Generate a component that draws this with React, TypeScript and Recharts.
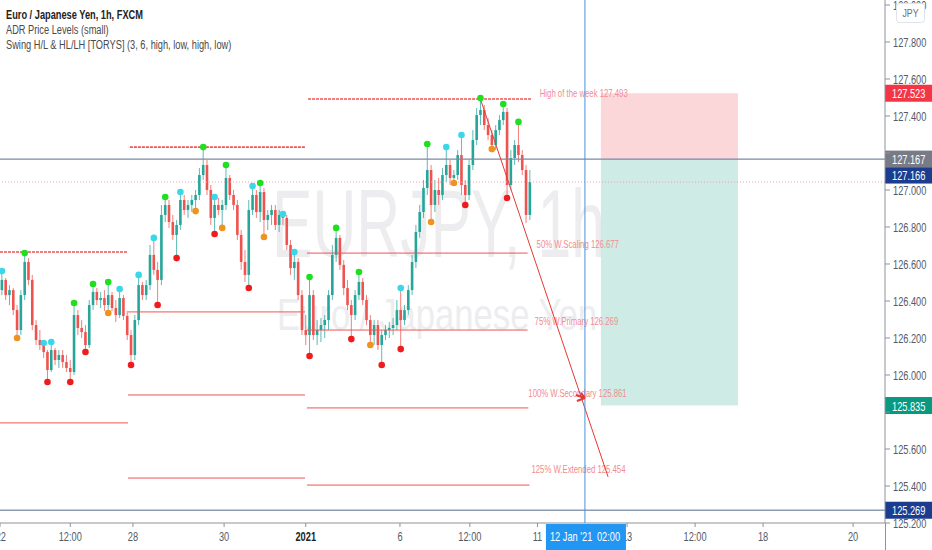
import React from "react";
import {
  ComposedChart,
  Bar,
  Scatter,
  XAxis,
  YAxis,
  ReferenceLine,
  ReferenceArea,
  ReferenceDot,
} from "recharts";

const W = 932;
const H = 550;
const SANS = "'Liberation Sans', Arial, sans-serif";
const UP = "#26a69a";
const DOWN = "#ef5350";
const LEVEL = "#f05454";
const LEVEL_TEXT = "#f28b8f";
const AXIS = "#8f929b";
const TICK = "#555a66";

// [open, high, low, close], 2h candles
type Candle = [number, number, number, number];

const weekDec21: Candle[] = [
  [126.459, 126.562, 126.432, 126.514], [126.514, 126.524, 126.405, 126.432],
  [126.432, 126.486, 126.378, 126.459], [126.459, 126.47, 126.324, 126.351],
  [126.351, 126.378, 126.2, 126.243], [126.243, 126.459, 126.216, 126.432],
  [126.432, 126.659, 126.405, 126.611], [126.611, 126.632, 126.486, 126.514],
  [126.514, 126.541, 126.243, 126.27], [126.27, 126.297, 126.162, 126.189],
  [126.189, 126.243, 126.135, 126.162], [126.162, 126.173, 126.092, 126.124],
  [126.124, 126.135, 125.962, 126.027], [126.027, 126.178, 126.016, 126.135],
  [126.135, 126.146, 126.054, 126.081], [126.081, 126.135, 126.038, 126.108],
  [126.108, 126.135, 126.038, 126.07], [126.07, 126.108, 126.016, 126.038],
  [126.038, 126.081, 125.962, 126.016], [126.016, 126.389, 126.0, 126.324],
  [126.324, 126.351, 126.216, 126.254], [126.254, 126.297, 126.2, 126.232],
  [126.232, 126.27, 126.124, 126.162], [126.162, 126.405, 126.146, 126.378],
  [126.378, 126.492, 126.351, 126.449], [126.449, 126.47, 126.378, 126.405],
  [126.405, 126.449, 126.362, 126.416], [126.416, 126.459, 126.346, 126.378],
  [126.378, 126.503, 126.335, 126.432], [126.432, 126.449, 126.346, 126.362],
  [126.362, 126.405, 126.286, 126.324], [126.324, 126.465, 126.308, 126.416],
  [126.416, 126.432, 126.297, 126.319], [126.319, 126.346, 126.189, 126.216],
];

const weekDec28: Candle[] = [
  [126.216, 126.243, 126.054, 126.108], [126.108, 126.324, 126.081, 126.297],
  [126.297, 126.541, 126.27, 126.486], [126.486, 126.503, 126.405, 126.432],
  [126.432, 126.514, 126.405, 126.486], [126.486, 126.703, 126.459, 126.649],
  [126.649, 126.741, 126.541, 126.568], [126.568, 126.611, 126.378, 126.514],
  [126.514, 126.919, 126.486, 126.865], [126.865, 126.962, 126.827, 126.919],
  [126.919, 126.946, 126.795, 126.827], [126.827, 126.865, 126.73, 126.757],
  [126.757, 126.838, 126.632, 126.811], [126.811, 126.989, 126.784, 126.946],
  [126.946, 126.973, 126.865, 126.892], [126.892, 126.946, 126.849, 126.919],
  [126.919, 126.973, 126.881, 126.946], [126.946, 127.0, 126.886, 126.973],
  [126.973, 127.119, 126.946, 127.081], [127.081, 127.232, 127.054, 127.135],
  [127.135, 127.162, 126.973, 127.0], [127.0, 127.027, 126.811, 126.849],
  [126.849, 126.962, 126.762, 126.919], [126.919, 126.957, 126.865, 126.892],
  [126.892, 126.946, 126.795, 126.919], [126.919, 127.135, 126.892, 127.065],
  [127.065, 127.081, 126.946, 126.973], [126.973, 127.0, 126.892, 126.919],
  [126.919, 126.946, 126.73, 126.757], [126.757, 126.784, 126.568, 126.611],
  [126.611, 126.676, 126.503, 126.541], [126.541, 126.946, 126.47, 126.892],
  [126.892, 127.022, 126.865, 126.973], [126.973, 127.0, 126.849, 126.881],
  [126.881, 127.038, 126.827, 126.989], [126.989, 127.011, 126.746, 126.838],
  [126.838, 126.892, 126.784, 126.865], [126.865, 126.919, 126.811, 126.892],
  [126.892, 126.919, 126.784, 126.811], [126.811, 126.892, 126.773, 126.865],
  [126.865, 126.87, 126.811, 126.849], [126.849, 126.865, 126.676, 126.703],
  [126.703, 126.73, 126.541, 126.578], [126.578, 126.665, 126.514, 126.611],
  [126.611, 126.632, 126.405, 126.432], [126.432, 126.459, 126.216, 126.243],
  [126.243, 126.324, 126.162, 126.216],
];

const weekJan4: Candle[] = [
  [126.216, 126.53, 126.103, 126.432], [126.432, 126.459, 126.189, 126.216],
  [126.216, 126.297, 126.162, 126.243], [126.243, 126.308, 126.178, 126.27],
  [126.27, 126.324, 126.2, 126.297], [126.297, 126.459, 126.243, 126.432],
  [126.432, 126.703, 126.405, 126.649], [126.649, 126.795, 126.611, 126.741],
  [126.741, 126.757, 126.568, 126.595], [126.595, 126.622, 126.432, 126.47],
  [126.47, 126.514, 126.351, 126.378], [126.378, 126.405, 126.194, 126.324],
  [126.324, 126.459, 126.297, 126.432], [126.432, 126.557, 126.405, 126.503],
  [126.503, 126.524, 126.378, 126.405], [126.405, 126.432, 126.27, 126.297],
  [126.297, 126.324, 126.162, 126.216], [126.216, 126.297, 126.162, 126.27],
  [126.27, 126.297, 126.135, 126.162], [126.162, 126.243, 126.054, 126.216],
  [126.216, 126.27, 126.189, 126.243], [126.243, 126.286, 126.2, 126.254],
  [126.254, 126.308, 126.216, 126.27], [126.27, 126.405, 126.243, 126.351],
  [126.351, 126.47, 126.14, 126.297], [126.297, 126.378, 126.27, 126.351],
  [126.351, 126.486, 126.324, 126.459], [126.459, 126.649, 126.432, 126.611],
  [126.611, 126.811, 126.578, 126.773], [126.773, 126.919, 126.741, 126.881],
  [126.881, 127.054, 126.849, 127.011], [127.011, 127.249, 126.973, 127.108],
  [127.108, 127.135, 126.827, 126.919], [126.919, 127.054, 126.881, 127.0],
  [127.0, 127.065, 126.919, 126.973], [126.973, 127.119, 126.946, 127.081],
  [127.081, 127.232, 127.043, 127.135], [127.135, 127.162, 127.027, 127.065],
  [127.065, 127.108, 127.038, 127.081], [127.081, 127.216, 127.054, 127.189],
  [127.189, 127.297, 126.973, 127.027], [127.027, 127.054, 126.919, 126.973],
  [126.973, 127.162, 126.946, 127.135], [127.135, 127.324, 127.108, 127.27],
  [127.27, 127.443, 127.243, 127.405], [127.405, 127.497, 127.351, 127.432],
  [127.432, 127.459, 127.324, 127.351], [127.351, 127.389, 127.27, 127.297],
  [127.297, 127.324, 127.221, 127.243], [127.243, 127.351, 127.216, 127.324],
  [127.324, 127.405, 127.297, 127.378], [127.378, 127.465, 127.351, 127.422],
  [127.422, 127.443, 126.957, 127.027], [127.027, 127.216, 127.0, 127.173],
  [127.173, 127.27, 127.135, 127.243], [127.243, 127.368, 127.151, 127.189],
  [127.189, 127.216, 127.081, 127.108], [127.108, 127.135, 126.822, 126.865],
  [126.865, 127.108, 126.838, 127.043],
];

const FUTURE_SLOTS = 93;

// swing markers: [slot, price]
const swingHighs: [number, number][] = [
  [6, 126.659], [19, 126.389], [24, 126.492], [28, 126.503], [43, 126.962],
  [53, 127.232], [59, 127.135], [68, 127.038], [81, 126.53], [88, 126.795],
  [94, 126.557], [112, 127.249], [126, 127.497], [132, 127.465], [136, 127.368],
];
const lowerHighs: [number, number][] = [
  [0, 126.562], [11, 126.173], [13, 126.178], [31, 126.465], [36, 126.541],
  [40, 126.741], [47, 126.989], [56, 126.962], [66, 127.022], [74, 126.87],
  [77, 126.665], [105, 126.47], [117, 127.232], [121, 127.297],
];
const swingLows: [number, number][] = [
  [12, 125.962], [18, 125.962], [22, 126.124], [34, 126.054], [41, 126.378],
  [46, 126.632], [56, 126.762], [65, 126.47], [81, 126.103], [92, 126.194],
  [100, 126.054], [105, 126.14], [122, 126.919], [133, 126.957],
];
const higherLows: [number, number][] = [
  [4, 126.2], [28, 126.335], [51, 126.886], [58, 126.795], [69, 126.746],
  [97, 126.162], [113, 126.827], [119, 127.038], [129, 127.221],
];

// weekly ADR levels: [fromSlot, toSlot, price, dashed]
const levelsDec21: [number, number, number, boolean][] = [
  [-0.5, 33.2, 126.665, true],
  [-0.5, 33.2, 125.741, false],
];
const levelsDec28: [number, number, number, boolean][] = [
  [33.7, 79.8, 127.232, true],
  [33.2, 79.8, 126.341, false],
  [33.2, 79.8, 125.892, false],
  [33.2, 79.8, 125.443, false],
];
const levelsJan4: [number, number, number, boolean][] = [
  [80.6, 139.5, 127.492, true],
  [80.3, 138.4, 126.659, false],
  [80.3, 138.4, 126.243, false],
  [80.3, 138.6, 125.822, false],
  [80.3, 138.9, 125.405, false],
];
const levelNamesJan4 = [
  "High of the week 127.493",
  "50% W.Scaling 126.677",
  "75% W.Primary 126.269",
  "100% W.Secondary 125.861",
  "125% W.Extended 125.454",
];
const levelLabelOffsets = [
  [8, -5], [9, -8], [7, -8], [0, -14], [2, -15],
];

const xTickSlots = [-0.5, 18, 34.5, 58.5, 80, 104.8, 123.2, 141, 164.6, 182.5, 200.4, 224.1];
const xTickLabels = ["22", "12:00", "28", "30", "2021", "6", "12:00", "11", "13", "12:00", "18", "20"];
const yTicks = [
  125.2, 125.4, 125.6, 125.8, 126.0, 126.2, 126.4, 126.6, 126.8, 127.0, 127.2,
  127.4, 127.6, 127.8, 128.0,
];
// tick labels that sit under a price tag in the picture
const yTicksUnderTags = [125.8, 127.2];
const yMin = 125.2;
const yMax = 128.027;

// position tool and drawings
const stopPrice = 127.523;
const entryPrice = 127.167;
const targetPrice = 125.835;
const lastPrice = 127.043;
const lowLinePrice = 125.269;
const toolFrom = 157.7;
const toolTo = 193.8;
const trendFrom = { x: 125.9, y: 127.497 };
const trendTo = { x: 159.6, y: 125.449 };
const arrowAt = { x: 152.7, y: 125.876 };
const crosshairSlot = 153.5;

const candles = [...weekDec21, ...weekDec28, ...weekJan4];
const rows = Array.from({ length: candles.length + FUTURE_SLOTS }, (_, i) => {
  const k = candles[i];
  return k ? { slot: i, o: k[0], h: k[1], l: k[2], c: k[3] } : { slot: i };
});
const toPoints = (arr: [number, number][]) => arr.map(([i, p]) => ({ i, p }));

// text squeezed horizontally, like the reference screenshot
function SText(props: any) {
  const { x, y, sx = 0.76, anchor = "start", children, ...rest } = props;
  return (
    <text
      transform={`translate(${x},${y}) scale(${sx},1)`}
      textAnchor={anchor}
      dominantBaseline="central"
      fontFamily={SANS}
      {...rest}
    >
      {children}
    </text>
  );
}

function CandleShape(props: any) {
  const { x, y, width, height, payload } = props;
  if (!payload || payload.h == null) return null;
  const top = Math.min(y, y + height);
  const bottom = Math.max(y, y + height);
  const span = payload.h - payload.l || 1e-9;
  const toY = (v: number) => top + ((payload.h - v) / span) * (bottom - top);
  const cx = x + width / 2;
  const color = payload.c >= payload.o ? UP : DOWN;
  const yo = toY(payload.o);
  const yc = toY(payload.c);
  return (
    <g>
      <line x1={cx} x2={cx} y1={top} y2={bottom} stroke={color} strokeWidth={1} strokeOpacity={0.75} />
      <rect x={cx - 1.3} y={Math.min(yo, yc)} width={2.6} height={Math.max(1, Math.abs(yo - yc))} fill={color} />
    </g>
  );
}

const dot = (color: string) => (p: any) => <circle cx={p.cx} cy={p.cy} r={3.3} fill={color} />;

function LevelText(props: any) {
  const { viewBox, text, dx, dy } = props;
  if (!viewBox) return null;
  return (
    <SText x={viewBox.x + viewBox.width + dx} y={viewBox.y + dy} fill={LEVEL_TEXT} fontSize={10.5} sx={0.74}>
      {text}
    </SText>
  );
}

function PriceTag(props: any) {
  const { viewBox, text, color, dy = 0 } = props;
  if (!viewBox) return null;
  const cy = viewBox.y + dy;
  const x0 = viewBox.x + viewBox.width;
  return (
    <g>
      <rect x={x0} y={cy - 8.5} width={47} height={17} fill={color} />
      <SText x={x0 + 7} y={cy + 0.5} fill="#fff" fontSize={12.5} sx={0.74}>
        {text}
      </SText>
    </g>
  );
}

function TimeTag(props: any) {
  const { viewBox } = props;
  if (!viewBox) return null;
  const x = viewBox.x;
  const y = viewBox.y + viewBox.height;
  return (
    <g>
      <rect x={x - 39} y={y + 1} width={80} height={26} fill="#2196f3" />
      <SText x={x - 35} y={y + 13} fill="#fff" fontSize={12.5} sx={0.74}>
        12 Jan '21
      </SText>
      <SText x={x + 12} y={y + 13} fill="#fff" fontSize={12.5} sx={0.74}>
        02:00
      </SText>
    </g>
  );
}

function XTickLabel(props: any) {
  const { viewBox, text, first } = props;
  if (!viewBox) return null;
  const x = viewBox.x;
  const y = viewBox.y + viewBox.height;
  const bold = text === "2021";
  return (
    <g>
      <line x1={x} x2={x} y1={y} y2={y + 4} stroke={AXIS} />
      <SText
        x={first ? x + 6 : x}
        y={y + 13}
        anchor={first ? "end" : "middle"}
        fill={bold ? "#222" : TICK}
        fontWeight={bold ? 700 : 400}
        fontSize={12.5}
        sx={0.74}
      >
        {text}
      </SText>
    </g>
  );
}

function YTick(props: any) {
  const { x, y, payload } = props;
  const v = Number(payload.value);
  if (yTicksUnderTags.some((t) => Math.abs(t - v) < 1e-6)) return <g />;
  return (
    <SText x={x} y={y} fill={TICK} fontSize={12.5} sx={0.74}>
      {v.toFixed(3)}
    </SText>
  );
}

function Arrow(p: any) {
  const { cx, cy } = p;
  return (
    <path
      d={`M${cx - 6},${cy - 3} L${cx + 3},${cy} M${cx - 5},${cy + 3} L${cx + 3},${cy} M${cx + 3},${cy} L${cx - 1},${cy - 5}`}
      stroke="#e53935"
      strokeWidth={2}
      fill="none"
    />
  );
}

const levelLine = (lv: [number, number, number, boolean], key: string, label?: React.ReactElement) => (
  <ReferenceLine
    key={key}
    xAxisId="n"
    segment={[{ x: lv[0], y: lv[2] }, { x: lv[1], y: lv[2] }]}
    stroke={LEVEL}
    strokeWidth={lv[3] ? 1.6 : 1}
    strokeDasharray={lv[3] ? "3 1" : undefined}
    label={label}
  />
);

export default function App() {
  return (
    <div style={{ position: "fixed", left: 0, top: 0, width: W, height: H, background: "#fff", overflow: "hidden" }}>
      <svg width={W} height={H} style={{ position: "absolute", left: 0, top: 0 }}>
        <text x={272} y={257} fontSize={96} textLength={333} lengthAdjust="spacingAndGlyphs" fill="#ededf0" fontFamily={SANS}>
          EURJPY, 1h
        </text>
        <text x={277} y={330} fontSize={44} textLength={320} lengthAdjust="spacingAndGlyphs" fill="#ededf0" fontFamily={SANS}>
          Euro / Japanese Yen
        </text>
      </svg>
      <div style={{ position: "absolute", left: 0, top: 0 }}>
        <ComposedChart width={W} height={H} data={rows} margin={{ top: 0, right: 0, bottom: 0, left: 0 }}>
          <XAxis xAxisId="c" dataKey="slot" type="category" hide />
          <XAxis
            xAxisId="n"
            dataKey="i"
            type="number"
            domain={[-0.5, candles.length + FUTURE_SLOTS - 0.5]}
            allowDataOverflow
            height={27}
            tick={false}
            tickLine={false}
            axisLine={{ stroke: AXIS }}
          />
          <YAxis
            orientation="right"
            dataKey="p"
            domain={[yMin, yMax]}
            allowDataOverflow
            ticks={yTicks}
            interval={0}
            width={47}
            tickSize={5}
            tickMargin={3}
            tick={(p: any) => <YTick {...p} />}
            axisLine={{ stroke: AXIS }}
            tickLine={{ stroke: AXIS }}
          />
          <ReferenceArea
            xAxisId="n"
            x1={toolFrom}
            x2={toolTo}
            y1={entryPrice}
            y2={stopPrice}
            fill="#f23645"
            fillOpacity={0.2}
            stroke="none"
          />
          <ReferenceArea
            xAxisId="n"
            x1={toolFrom}
            x2={toolTo}
            y1={targetPrice}
            y2={entryPrice}
            fill="#089981"
            fillOpacity={0.2}
            stroke="none"
          />
          <ReferenceLine xAxisId="n" y={yMin} stroke={AXIS} ifOverflow="visible" />
          {xTickSlots.map((s, k) => (
            <ReferenceLine
              key={`xt${k}`}
              xAxisId="n"
              x={s}
              stroke="none"
              ifOverflow="visible"
              label={<XTickLabel text={xTickLabels[k]} first={k === 0} />}
            />
          ))}
          {levelsDec21.map((lv, k) => levelLine(lv, `a${k}`))}
          {levelsDec28.map((lv, k) => levelLine(lv, `b${k}`))}
          {levelsJan4.map((lv, k) =>
            levelLine(
              lv,
              `c${k}`,
              <LevelText text={levelNamesJan4[k]} dx={levelLabelOffsets[k][0]} dy={levelLabelOffsets[k][1]} />
            )
          )}
          <ReferenceLine
            xAxisId="n"
            y={lastPrice}
            stroke="#f4a0a8"
            strokeDasharray="1 2"
            label={<PriceTag text="127.166" color="#1c3d8f" dy={-7} />}
          />
          <ReferenceLine
            xAxisId="n"
            y={entryPrice}
            stroke="#7a8aa5"
            strokeWidth={1.2}
            label={<PriceTag text="127.167" color="#787b86" />}
          />
          <ReferenceLine
            xAxisId="n"
            y={lowLinePrice}
            stroke="#8d9cb3"
            strokeWidth={1.6}
            label={<PriceTag text="125.269" color="#1c3d8f" />}
          />
          <ReferenceLine
            xAxisId="n"
            y={stopPrice}
            stroke="none"
            label={<PriceTag text="127.523" color="#f23645" />}
          />
          <ReferenceLine
            xAxisId="n"
            y={targetPrice}
            stroke="none"
            label={<PriceTag text="125.835" color="#089981" />}
          />
          <Bar
            xAxisId="c"
            dataKey={(d: any) => (d.h == null ? null : [d.l, d.h])}
            shape={<CandleShape />}
            isAnimationActive={false}
          />
          <ReferenceLine xAxisId="n" segment={[trendFrom, trendTo]} stroke="#e53935" strokeWidth={1} />
          <ReferenceLine
            xAxisId="n"
            x={crosshairSlot}
            stroke="#4a90d9"
            strokeWidth={1}
            label={<TimeTag />}
          />
          <ReferenceDot xAxisId="n" x={arrowAt.x} y={arrowAt.y} r={4} shape={Arrow} />
          <Scatter xAxisId="n" data={toPoints(swingHighs)} shape={dot("#1ee01e")} isAnimationActive={false} />
          <Scatter xAxisId="n" data={toPoints(lowerHighs)} shape={dot("#3ad6ea")} isAnimationActive={false} />
          <Scatter xAxisId="n" data={toPoints(swingLows)} shape={dot("#ee1c1c")} isAnimationActive={false} />
          <Scatter xAxisId="n" data={toPoints(higherLows)} shape={dot("#f0921e")} isAnimationActive={false} />
        </ComposedChart>
      </div>
      <div
        style={{
          position: "absolute",
          left: 6,
          top: 8,
          fontFamily: SANS,
          fontSize: 12,
          lineHeight: "15px",
          color: "#4a4a4a",
          pointerEvents: "none",
          transform: "scaleX(0.77)",
          transformOrigin: "0 0",
          whiteSpace: "nowrap",
        }}
      >
        <div style={{ fontWeight: 700, color: "#222" }}>Euro / Japanese Yen, 1h, FXCM</div>
        <div>ADR Price Levels (small)</div>
        <div>Swing H/L &amp; HL/LH [TORYS] (3, 6, high, low, high, low)</div>
      </div>
      <svg width={W} height={H} style={{ position: "absolute", left: 0, top: 0, pointerEvents: "none" }}>
        <line x1={885.5} x2={885.5} y1={523} y2={H} stroke={AXIS} />
        <rect x={896.5} y={3.5} width={28} height={19} rx={3} fill="#fff" stroke="#e0e3eb" />
        <text
          transform="translate(910.5,13.5) scale(0.8,1)"
          textAnchor="middle"
          dominantBaseline="central"
          fontSize={11}
          fill="#6a6d78"
          fontFamily={SANS}
        >
          JPY
        </text>
      </svg>
    </div>
  );
}
